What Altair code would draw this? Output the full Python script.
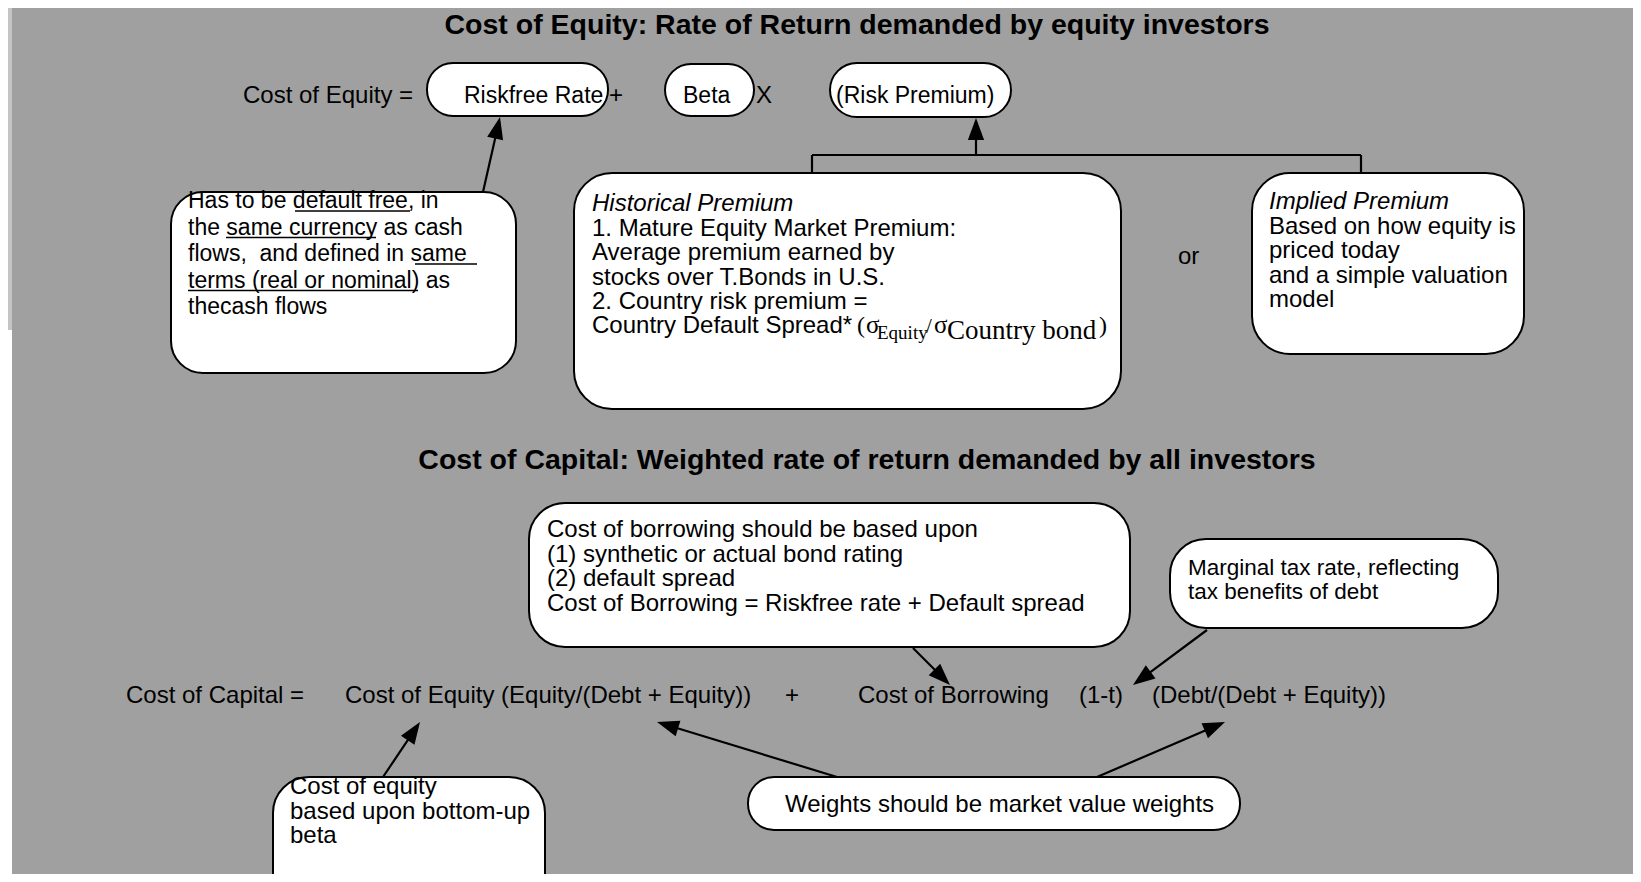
import math
import altair as alt
import pandas as pd

# ---------------- canvas ----------------
W, H = 1625, 866          # plot area (page has an 8px margin)
OX, OY = 8, 8             # data coordinates are reference-image pixels

# ---------------- background panels ----------------
bg_x1 = [12, 8]
bg_y1 = [8, 8]
bg_x2 = [1641, 12]
bg_y2 = [882, 330]
bg_fill = ["#a0a0a0", "#c4c4c4"]

# ---------------- boxes (x1, y1, x2, y2, corner radius) ----------------
box_name = ["Riskfree Rate", "Beta", "Risk Premium", "Default free", "Historical",
            "Implied", "Borrowing", "Marginal tax", "Weights", "Bottom-up beta"]
box_x1 = [427, 665, 830, 171, 574, 1252, 529, 1170, 748, 273]
box_y1 = [63, 64, 63, 192, 173, 173, 503, 539, 777, 777]
box_x2 = [608, 754, 1011, 516, 1121, 1524, 1130, 1498, 1240, 545]
box_y2 = [116, 116, 117, 373, 409, 354, 647, 628, 830, 910]
box_r = [26, 26, 27, 32, 38, 38, 36, 36, 26, 36]

# ---------------- arrows (tail -> tip) ----------------
arr_x1 = [483, 976, 913, 1207, 383, 837, 1097]
arr_y1 = [192, 155, 648, 630, 777, 777, 777]
arr_x2 = [500, 976, 950, 1133, 420, 657, 1225]
arr_y2 = [117, 118, 685, 685, 722, 722, 722]

# ---------------- plain connector lines ----------------
ln_x1 = [812, 812, 1361]
ln_y1 = [155, 155, 155]
ln_x2 = [1361, 812, 1361]
ln_y2 = [155, 173, 174]

# ---------------- underlines ----------------
ul_x1 = [295, 226, 415, 188]
ul_x2 = [410, 376, 477, 418]
ul_y = [211, 237.5, 264, 290.5]

# ---------------- titles ----------------
title_x = [857, 867]
title_y = [33.5, 469]
title_t = ["Cost of Equity: Rate of Return demanded by equity investors",
           "Cost of Capital: Weighted rate of return demanded by all investors"]

# ---------------- regular sans text ----------------
sans_x = [243, 464, 609, 683, 756, 836,
          188, 188, 188, 188, 188,
          592, 592, 592, 592, 592,
          1269, 1269, 1269, 1269,
          1178,
          547, 547, 547, 547,
          1188, 1188,
          126, 345, 785, 858, 1079, 1152,
          785,
          290, 290, 290]
sans_y = [103, 103, 103, 103, 103, 103,
          208, 234.5, 261, 287.5, 314,
          235.5, 260, 284.5, 309, 333,
          233.5, 258, 282.5, 307,
          264,
          537, 561.5, 586, 610.5,
          574.5, 599,
          702.5, 702.5, 702.5, 702.5, 702.5, 702.5,
          812,
          794, 818.5, 843]
sans_t = ["Cost of Equity =", "Riskfree Rate", "+", "Beta", "X", "(Risk Premium)",
          "Has to be default free, in", "the same currency as cash",
          "flows,\u00a0 and defined in same ", "terms (real or nominal) as", "thecash flows",
          "1. Mature Equity Market Premium:", "Average premium earned by",
          "stocks over T.Bonds in U.S.", "2. Country risk premium =",
          "Country Default Spread* ",
          "Based on how equity is", "priced today", "and a simple valuation", "model",
          "or",
          "Cost of borrowing should be based upon", "(1) synthetic or actual bond rating",
          "(2) default spread", "Cost of Borrowing = Riskfree rate + Default spread",
          "Marginal tax rate, reflecting", "tax benefits of debt",
          "Cost of Capital =", "Cost of Equity (Equity/(Debt + Equity))", "+",
          "Cost of Borrowing", "(1-t)", "(Debt/(Debt + Equity))",
          "Weights should be market value weights",
          "Cost of equity", "based upon bottom-up", "beta"]
sans_s = [24, 23, 24, 23, 24, 23,
          23, 23, 23, 23, 23,
          24, 24, 24, 24, 24,
          24, 24, 24, 24,
          24,
          24, 24, 24, 24,
          22.5, 22.5,
          24, 24, 24, 24, 24, 24,
          24,
          24, 24, 24]

# ---------------- italic headings ----------------
ital_x = [592, 1269]
ital_y = [211, 209]
ital_t = ["Historical Premium", "Implied Premium"]

# ---------------- serif (sigma ratio) ----------------
serif_x = [857, 866, 877, 926, 934, 947, 1099]
serif_y = [333, 333, 339, 333, 333, 339, 333]
serif_t = ["(", "σ", "Equity", "/", "σ", "Country bond", ")"]
serif_s = [24, 25, 19, 21, 25, 27, 24]

# ======================================================================
xs = alt.Scale(domain=[OX, OX + W], nice=False, zero=False)
ys = alt.Scale(domain=[OY, OY + H], nice=False, zero=False, reverse=True)


def X(f):
    return alt.X(f, type="quantitative", scale=xs, axis=None)


def Y(f):
    return alt.Y(f, type="quantitative", scale=ys, axis=None)


layers = []

# background
bg = pd.DataFrame({"x1": bg_x1, "y1": bg_y1, "x2": bg_x2, "y2": bg_y2, "fill": bg_fill})
layers.append(
    alt.Chart(bg).mark_rect(clip=True).encode(
        x=X("x1"), x2="x2", y=Y("y1"), y2="y2",
        color=alt.Color("fill:N", scale=None, legend=None),
    )
)

# connector lines
lines = pd.DataFrame({"x1": ln_x1, "y1": ln_y1, "x2": ln_x2, "y2": ln_y2})
layers.append(
    alt.Chart(lines).mark_rule(color="black", strokeWidth=2.2).encode(
        x=X("x1"), y=Y("y1"), x2="x2", y2="y2"
    )
)

# arrows: shaft shortened so it ends inside the head
arr = pd.DataFrame({"x1": arr_x1, "y1": arr_y1, "x2": arr_x2, "y2": arr_y2})
dx = arr["x2"] - arr["x1"]
dy = arr["y2"] - arr["y1"]
ln = (dx ** 2 + dy ** 2) ** 0.5
arr["sx"] = arr["x2"] - dx / ln * 12
arr["sy"] = arr["y2"] - dy / ln * 12
arr["ang"] = [(math.degrees(math.atan2(a, -b)) + 360) % 360 for a, b in zip(dx, dy)]

layers.append(
    alt.Chart(arr).mark_rule(color="black", strokeWidth=2.2).encode(
        x=X("x1"), y=Y("y1"), x2="sx", y2="sy"
    )
)

# boxes, one layer per corner radius
boxes = pd.DataFrame({"name": box_name, "x1": box_x1, "y1": box_y1,
                      "x2": box_x2, "y2": box_y2, "r": box_r})
for r in sorted(boxes["r"].unique()):
    sub = boxes[boxes["r"] == r]
    layers.append(
        alt.Chart(sub).mark_rect(
            fill="white", stroke="black", strokeWidth=2, cornerRadius=int(r), clip=True
        ).encode(x=X("x1"), x2="x2", y=Y("y1"), y2="y2")
    )

# arrow heads (tip at the symbol origin)
head = "M0,0 L-0.37,1 L0.37,1 Z"
layers.append(
    alt.Chart(arr).mark_point(
        shape=head, size=1936, filled=True, color="black", opacity=1, strokeWidth=0
    ).encode(x=X("x2"), y=Y("y2"), angle=alt.Angle("ang:Q", scale=None))
)

# underlines
ul = pd.DataFrame({"x1": ul_x1, "x2": ul_x2, "y": ul_y})
layers.append(
    alt.Chart(ul).mark_rule(color="black", strokeWidth=1.4).encode(
        x=X("x1"), x2="x2", y=Y("y")
    )
)

# titles
tt = pd.DataFrame({"x": title_x, "y": title_y, "t": title_t})
layers.append(
    alt.Chart(tt).mark_text(
        align="center", baseline="alphabetic", font="Liberation Sans",
        fontWeight="bold", fontSize=28.5, color="black"
    ).encode(x=X("x"), y=Y("y"), text="t:N")
)

# sans text
st = pd.DataFrame({"x": sans_x, "y": sans_y, "t": sans_t, "s": sans_s})
layers.append(
    alt.Chart(st).mark_text(
        align="left", baseline="alphabetic", font="Liberation Sans", color="black"
    ).encode(x=X("x"), y=Y("y"), text="t:N",
             size=alt.Size("s:Q", scale=None, legend=None))
)

# italic
it = pd.DataFrame({"x": ital_x, "y": ital_y, "t": ital_t})
layers.append(
    alt.Chart(it).mark_text(
        align="left", baseline="alphabetic", font="Liberation Sans",
        fontStyle="italic", fontSize=24, color="black"
    ).encode(x=X("x"), y=Y("y"), text="t:N")
)

# serif
se = pd.DataFrame({"x": serif_x, "y": serif_y, "t": serif_t, "s": serif_s})
layers.append(
    alt.Chart(se).mark_text(
        align="left", baseline="alphabetic", font="Liberation Serif", color="black"
    ).encode(x=X("x"), y=Y("y"), text="t:N",
             size=alt.Size("s:Q", scale=None, legend=None))
)

chart = (
    alt.layer(*layers)
    .properties(width=W, height=H, padding=0,
                autosize=alt.AutoSizeParams(type="none"), background="white")
    .configure_view(stroke=None)
)

chart.save("out.html", embed_options={"renderer": "svg", "actions": False})
